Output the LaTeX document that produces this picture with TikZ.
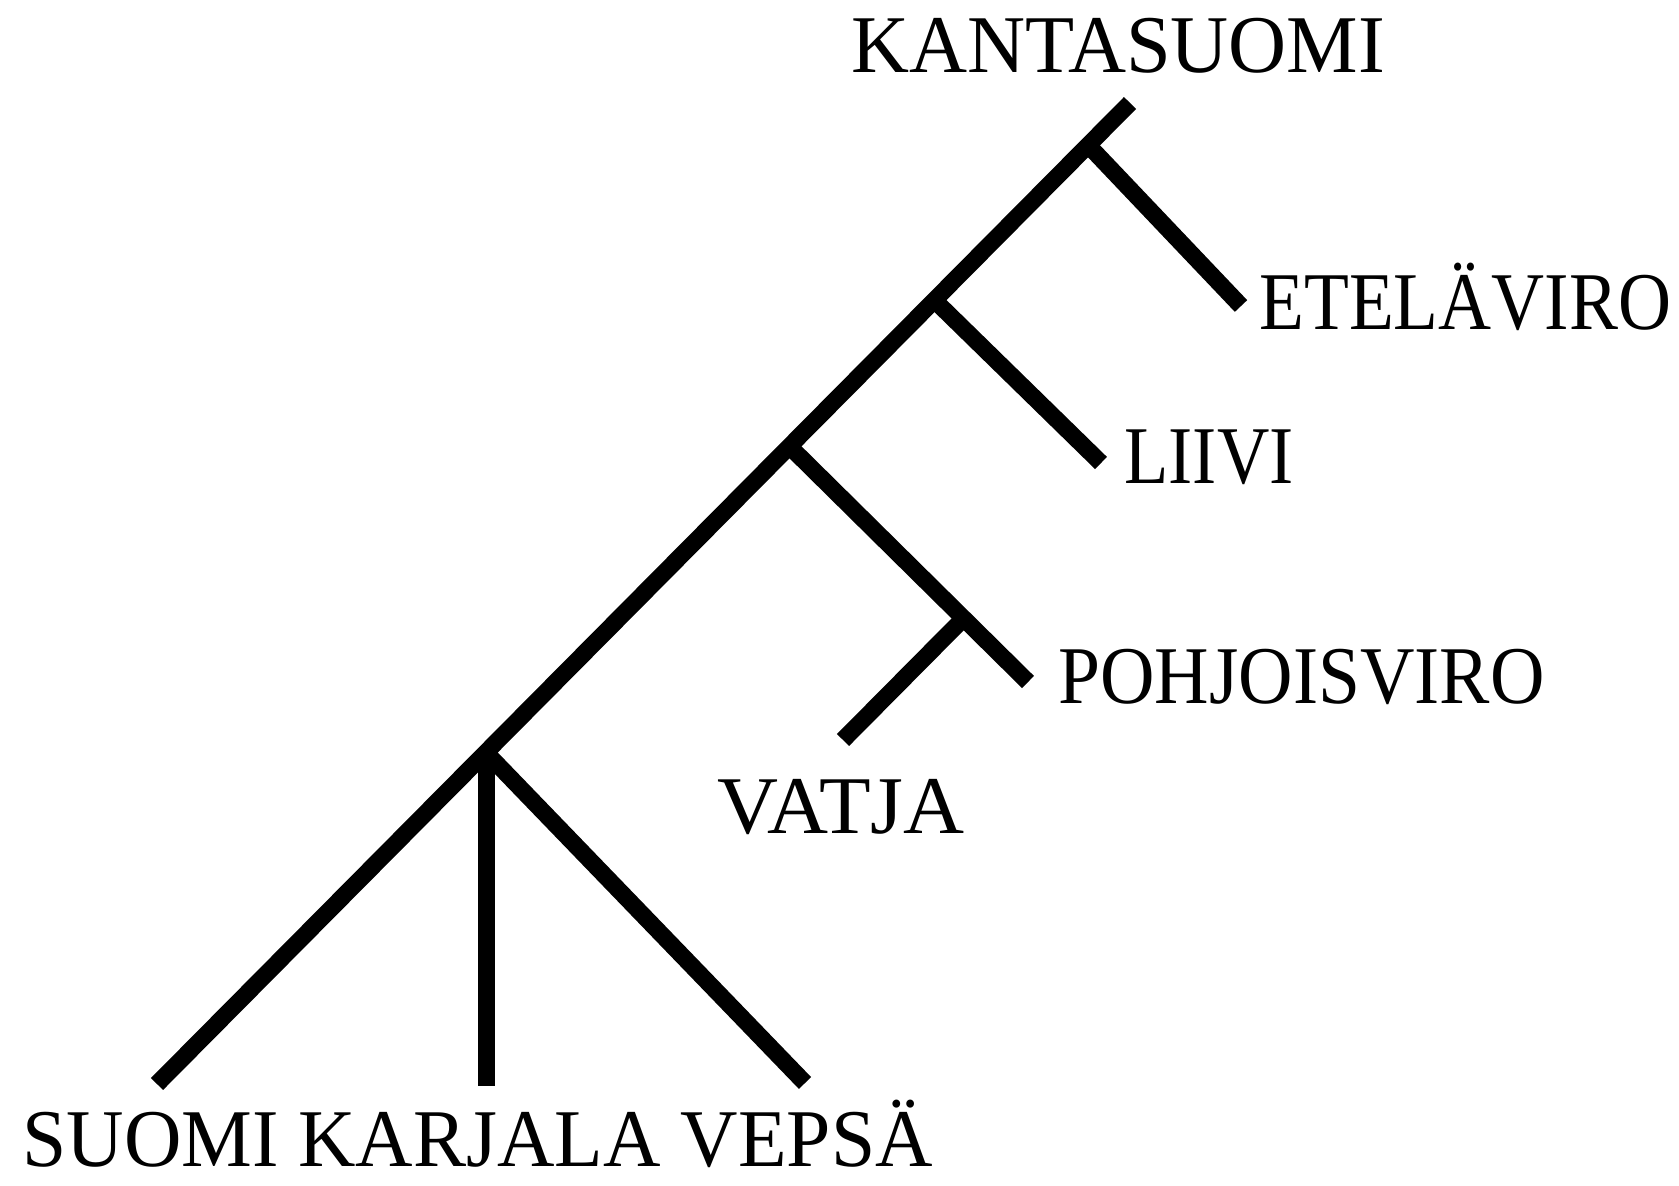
\documentclass[tikz,border=0pt]{standalone}
\usepackage{graphicx}
\usepackage{fontspec}
\setmainfont{Liberation Serif}
\usetikzlibrary{calc}
\newcommand{\sqz}[2]{\scalebox{#1}[1]{#2}}
\begin{document}
\begin{tikzpicture}[x=0.5pt,y=-0.5pt,
  branch/.style={line width=8.5pt,line cap=butt,black},
  lang/.style={inner sep=0pt,anchor=base west,font=\fontsize{41pt}{49pt}\selectfont}]
\useasboundingbox (0,0) rectangle (1679,1186);
% endpoints and junctions
\coordinate (top) at (1130,103);
\coordinate (bsu) at (157,1084);
\coordinate (j1) at ($(top)!0.043!(bsu)$);
\coordinate (j2) at ($(top)!0.201!(bsu)$);
\coordinate (j3) at ($(top)!0.35!(bsu)$);
\coordinate (j4) at ($(top)!0.662!(bsu)$);
\coordinate (e1) at (1241,306);
\coordinate (e2) at (1101,463);
\coordinate (e3) at (1028,682);
\coordinate (jv) at ($(j3)!0.73!(e3)$);
\coordinate (ev) at (843,740);
\coordinate (bka) at (486,1086);
\coordinate (bve) at (805,1083);
% labels
\node[lang] (kanta) at (851,73) {\sqz{0.98}{KANTASUOMI}};
\node[lang] (etela) at (1259,330) {\sqz{0.895}{ETELÄVIRO}};
\node[lang] (liivi) at (1124,484) {\sqz{0.885}{LIIVI}};
\node[lang] (pohj) at (1058,703) {\sqz{0.92}{POHJOISVIRO}};
\node[lang] (vatja) at (717,833) {\sqz{1.03}{VATJA}};
\node[lang] (bottom) at (22,1166) {\sqz{0.97}{SUOMI KARJALA VEPSÄ}};
% tree
\draw[branch] (top) -- (bsu);
\draw[branch] (j1) -- (e1);
\draw[branch] (j2) -- (e2);
\draw[branch] (j3) -- (e3);
\draw[branch] (jv) -- (ev);
\draw[branch] (j4) -- (bka |- j4) -- (bka);
\draw[branch] (j4) -- (bve);
\end{tikzpicture}
\end{document}
